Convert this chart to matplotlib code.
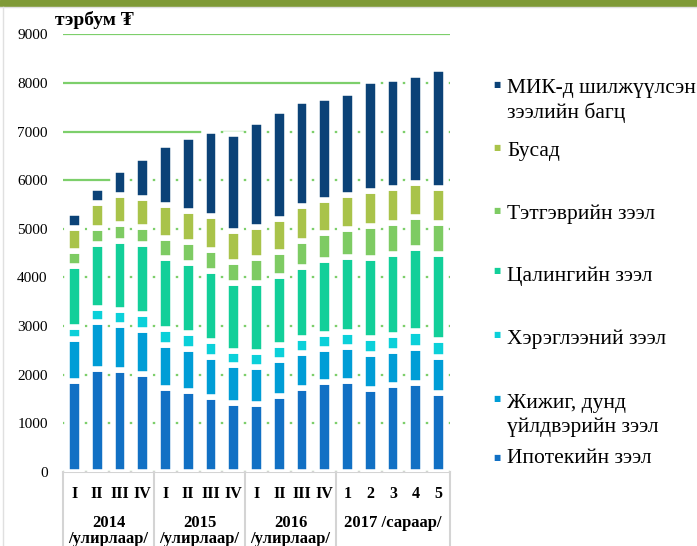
import matplotlib
matplotlib.use("Agg")
import numpy as np
import matplotlib.pyplot as plt
from matplotlib.patches import Rectangle
from matplotlib.lines import Line2D
import matplotlib.transforms as mtransforms

plt.rcParams['font.family'] = ['Liberation Serif', 'DejaVu Serif']

# ангилал (17 багана)
quarters = ['I', 'II', 'III', 'IV', 'I', 'II', 'III', 'IV', 'I', 'II', 'III', 'IV',
            '1', '2', '3', '4', '5']
groups = ['2014\n/улирлаар/', '2015\n/улирлаар/', '2016\n/улирлаар/', '2017 /сараар/']
group_sizes = [4, 4, 4, 5]

# тэрбум төгрөг
ipotek = [1870, 2120, 2100, 2015, 1730, 1665, 1540, 1420, 1395, 1560, 1730, 1845, 1880, 1710, 1795, 1835, 1630]
jijig = [865, 960, 930, 910, 880, 870, 815, 770, 760, 750, 710, 690, 690, 725, 700, 710, 730]
hereglee = [240, 285, 310, 325, 330, 325, 340, 300, 310, 305, 310, 310, 300, 320, 325, 345, 345]
tsalin = [1265, 1330, 1415, 1440, 1470, 1440, 1440, 1400, 1425, 1405, 1475, 1520, 1550, 1655, 1670, 1710, 1775]
tetgever = [295, 320, 350, 355, 410, 425, 440, 430, 520, 510, 530, 550, 580, 650, 630, 640, 645]
busad = [480, 520, 595, 595, 660, 650, 690, 640, 630, 675, 715, 670, 695, 715, 720, 705, 710]
mik = [310, 300, 510, 820, 1245, 1515, 1740, 2000, 2165, 2210, 2165, 2115, 2105, 2255, 2245, 2220, 2460]

series = [ipotek, jijig, hereglee, tsalin, tetgever, busad, mik]
names = ['Ипотекийн зээл', 'Жижиг, дунд\nүйлдвэрийн зээл', 'Хэрэглээний зээл',
         'Цалингийн зээл', 'Тэтгэврийн зээл', 'Бусад', 'МИК-д шилжүүлсэн\nзээлийн багц']
colors = ['#1170c4', '#009dd6', '#0bd0d9', '#12cf99', '#7ecb63', '#a9c34a', '#0b4277']

fig = plt.figure(figsize=(6.97, 5.46), dpi=100)
ax = fig.add_axes([63 / 697, 74 / 546, 387 / 697, 437.7 / 546])

x = np.arange(len(quarters))
bottom = np.zeros(len(x))
for vals, c in zip(series, colors):
    ax.bar(x, vals, bottom=bottom, width=0.65, color=c, edgecolor='white',
           linewidth=4, zorder=3)
    bottom += np.array(vals)

ax.set_xlim(-0.5, len(x) - 0.5)
ax.set_ylim(0, 9000)
ax.set_yticks(np.arange(0, 9001, 1000))
ax.yaxis.grid(True, color='#7dcf6b', linewidth=1.6)
ax.set_axisbelow(True)
ax.tick_params(axis='y', length=0, pad=11, labelsize=11)
ax.tick_params(axis='x', length=0, pad=10)
ax.set_xticks(x)
ax.set_xticklabels(quarters, fontsize=11.5, fontweight='bold')
for s in ['top', 'right', 'left']:
    ax.spines[s].set_visible(False)
ax.spines['bottom'].set_color('#d4d4d4')
ax.spines['bottom'].set_linewidth(1.5)

# бүлгийн хүрээ, нэрс
trans = mtransforms.blended_transform_factory(ax.transData, ax.transAxes)
edges = np.concatenate([[0], np.cumsum(group_sizes)]) - 0.5
for e in edges:
    ax.add_line(Line2D([e, e], [0, -0.2], transform=trans, color='#d4d4d4',
                       linewidth=1.5, clip_on=False))
for i, g in enumerate(groups):
    mid = (edges[i] + edges[i + 1]) / 2
    ax.text(mid, -0.098, g, transform=trans, ha='center', va='top', fontsize=12,
            fontweight='bold', linespacing=1.05)

fig.text(55 / 697, 1 - 25 / 546, 'тэрбум ₮', fontsize=14, fontweight='bold', va='baseline')

# тайлбар: тэмдэг, мөр бүрийн суурь шугам (пиксел)
leg_order = [6, 5, 4, 3, 2, 1, 0]
mark_y = [85, 147.3, 210.7, 270.7, 334, 398.3, 457.3]
base_y = [[93.3, 118.3], [156], [219.3], [280.7], [344], [408.3, 431.7], [463.3]]
for my, bys, k in zip(mark_y, base_y, leg_order):
    fig.text(497 / 697, 1 - my / 546, '■', color=colors[k], fontsize=5.5,
             family='DejaVu Sans', ha='center', va='center')
    for line, by in zip(names[k].split('\n'), bys):
        fig.text(507 / 697, 1 - by / 546, line, fontsize=15.5, va='baseline')

# дээд ногоон зурвас
fig.patches.append(Rectangle((0, 1 - 6 / 546), 1, 6 / 546, transform=fig.transFigure,
                             color='#7f9a37', zorder=0))
fig.add_artist(Line2D([0, 1], [1 - 7 / 546, 1 - 7 / 546], color='#e0e0e0', linewidth=1))
fig.add_artist(Line2D([3 / 697, 3 / 697], [0, 1 - 7 / 546], color='#e0e0e0', linewidth=1))

fig.savefig('out.png', dpi=100)
